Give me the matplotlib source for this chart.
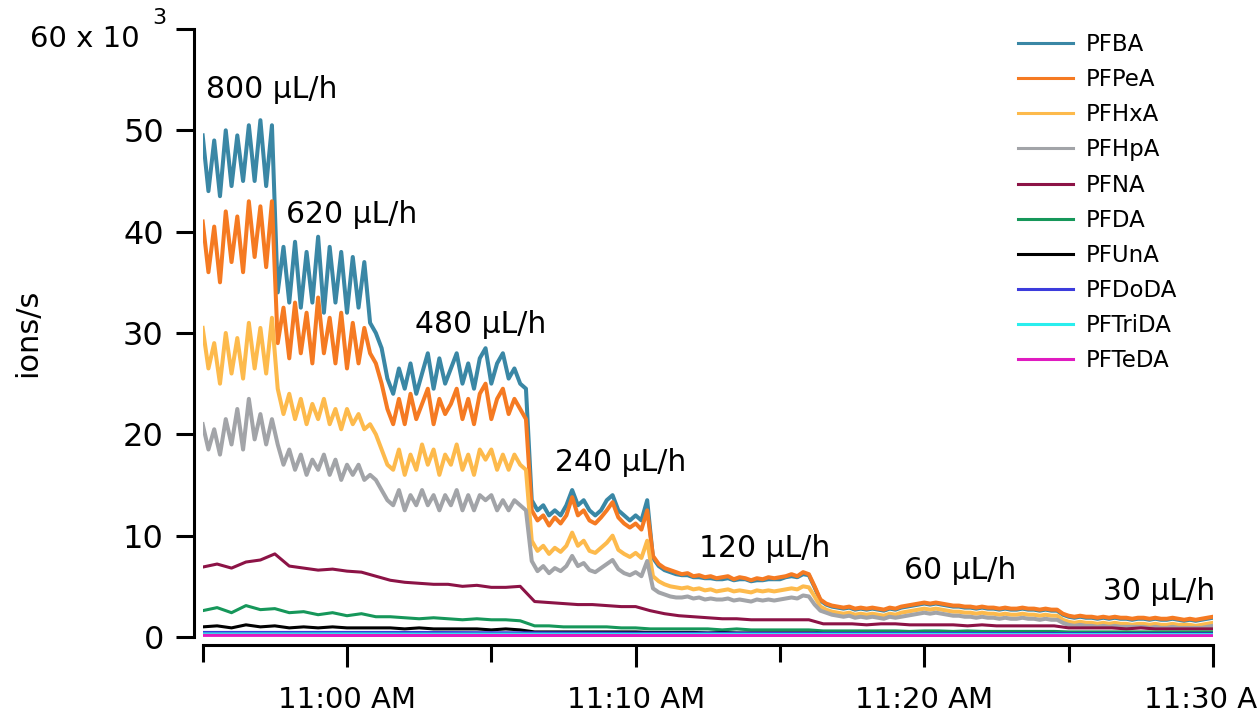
import numpy as np
import matplotlib
matplotlib.use("Agg")
import matplotlib.pyplot as plt

plt.rcParams['font.family'] = ['DejaVu Sans']

# time axis: minutes after 10:55 AM
t_fine = np.arange(176) * 0.2
t_coarse = np.arange(71) * 0.5
t_flat = np.arange(15) * 2.5

# ion counts in thousands (ions/s x 10^3)
pfba = ([49.5, 44.0, 49.0, 43.5, 50.0, 44.5, 49.5, 45.0, 50.5, 45.0, 51.0, 44.5, 50.5]
        + [34.0, 38.5, 33.0, 39.0, 32.5, 38.0, 33.0, 39.5, 32.0, 38.5, 33.0, 38.0, 32.0, 37.5, 32.5, 37.0,
           31.0, 30.0, 28.5, 25.5]
        + [24.0, 26.5, 24.5, 27.0, 24.0, 26.0, 28.0, 24.5, 27.5, 25.0, 26.5, 28.0, 25.0, 27.0, 24.5, 27.5,
           28.5, 25.0, 27.0, 28.0, 25.5, 26.5, 25.0, 24.5]
        + [13.5, 12.5, 13.0, 12.0, 12.5, 12.0, 13.0, 14.5, 13.0, 13.5, 12.5, 12.0, 12.5, 13.5, 14.0, 12.5,
           12.0, 11.5, 12.0, 11.5, 13.5]
        + [7.8, 7.0, 6.6, 6.4, 6.2, 6.1, 6.1, 5.9, 5.9, 5.8, 5.8, 5.7, 5.7, 5.8, 5.6, 5.7, 5.7, 5.5, 5.6,
           5.6, 5.7, 5.7, 5.7, 5.9, 6.0, 5.9, 6.2, 6.1, 4.9]
        + [3.6, 3.2, 3.0, 2.9, 2.8, 2.9, 2.7, 2.8, 2.7, 2.8, 2.7, 2.6, 2.8, 2.7, 2.9, 3.0, 3.1, 3.2, 3.3,
           3.2, 3.3, 3.2, 3.1, 3.0, 3.0, 2.9, 2.9, 2.8, 2.9, 2.8, 2.8, 2.7, 2.8, 2.7, 2.7, 2.8, 2.7, 2.7,
           2.6, 2.7, 2.6, 2.6, 2.2]
        + [2.0, 1.9, 2.0, 1.9, 1.9, 1.8, 1.9, 1.8, 1.9, 1.8, 1.8, 1.7, 1.8, 1.8, 1.7, 1.8, 1.7, 1.7, 1.8,
           1.7, 1.6, 1.7, 1.6, 1.7, 1.8, 1.9])

pfpea = ([41.0, 36.0, 40.5, 35.0, 42.0, 37.0, 41.5, 36.0, 43.0, 37.5, 42.5, 36.5, 43.0]
         + [29.0, 32.5, 27.5, 33.0, 28.0, 32.0, 27.0, 33.5, 28.0, 31.5, 27.0, 32.0, 26.5, 31.0, 27.0, 30.5,
            28.0, 27.0, 25.0, 22.5]
         + [21.0, 23.5, 21.0, 24.0, 21.5, 23.0, 24.5, 21.0, 23.5, 22.0, 23.0, 24.5, 21.5, 23.5, 21.0, 24.0,
            25.0, 21.5, 23.5, 24.5, 22.0, 23.5, 22.5, 21.5]
         + [12.5, 11.5, 12.0, 11.0, 11.8, 11.2, 12.0, 13.8, 12.0, 12.5, 11.5, 11.2, 11.8, 12.5, 13.3, 11.8,
            11.2, 10.8, 11.2, 10.6, 12.5]
         + [8.0, 7.2, 6.8, 6.6, 6.4, 6.2, 6.3, 6.0, 6.1, 5.9, 6.0, 5.8, 5.9, 6.0, 5.7, 5.9, 5.8, 5.6, 5.8,
            5.7, 5.9, 5.8, 5.9, 6.0, 6.2, 6.0, 6.4, 6.2, 5.0]
         + [3.7, 3.3, 3.1, 3.0, 2.9, 3.0, 2.8, 2.9, 2.8, 2.9, 2.8, 2.7, 2.9, 2.8, 3.0, 3.1, 3.2, 3.3, 3.4,
            3.3, 3.4, 3.3, 3.2, 3.1, 3.1, 3.0, 3.0, 2.9, 3.0, 2.9, 2.9, 2.8, 2.9, 2.8, 2.8, 2.9, 2.8, 2.8,
            2.7, 2.8, 2.7, 2.7, 2.3]
         + [2.1, 2.0, 2.1, 2.0, 2.0, 1.9, 2.0, 1.9, 2.0, 1.9, 1.9, 1.8, 1.9, 1.9, 1.8, 1.9, 1.8, 1.8, 1.9,
            1.8, 1.7, 1.8, 1.7, 1.8, 1.9, 2.0])

pfhxa = ([30.5, 26.5, 29.0, 25.0, 30.0, 26.0, 29.5, 25.5, 31.0, 26.5, 30.5, 26.0, 31.5]
         + [24.5, 22.0, 24.0, 21.5, 23.5, 21.0, 23.0, 21.5, 23.5, 21.0, 22.5, 20.5, 22.5, 21.0, 22.0, 20.5,
            21.0, 20.0, 18.5, 17.0]
         + [16.5, 18.5, 16.0, 18.0, 16.5, 19.0, 17.0, 18.5, 16.0, 18.0, 17.0, 19.0, 16.5, 18.0, 16.0, 18.5,
            17.5, 18.5, 16.5, 18.0, 16.5, 18.0, 17.0, 16.5]
         + [9.5, 8.5, 9.0, 8.2, 8.8, 8.4, 9.0, 10.3, 9.0, 9.5, 8.5, 8.3, 8.8, 9.3, 10.0, 8.6, 8.2, 7.9, 8.3,
            7.8, 9.5]
         + [6.0, 5.5, 5.2, 5.0, 4.9, 4.8, 4.9, 4.7, 4.8, 4.6, 4.7, 4.5, 4.6, 4.7, 4.5, 4.6, 4.5, 4.4, 4.6,
            4.5, 4.6, 4.5, 4.6, 4.7, 4.8, 4.7, 5.0, 4.9, 4.0]
         + [3.0, 2.7, 2.5, 2.4, 2.3, 2.4, 2.2, 2.3, 2.2, 2.3, 2.2, 2.1, 2.3, 2.2, 2.4, 2.5, 2.6, 2.7, 2.8,
            2.7, 2.8, 2.7, 2.6, 2.5, 2.5, 2.4, 2.4, 2.3, 2.4, 2.3, 2.3, 2.2, 2.3, 2.2, 2.2, 2.3, 2.2, 2.2,
            2.1, 2.2, 2.1, 2.1, 1.7]
         + [1.5, 1.4, 1.5, 1.4, 1.4, 1.3, 1.4, 1.3, 1.4, 1.3, 1.3, 1.2, 1.3, 1.3, 1.2, 1.3, 1.2, 1.2, 1.3,
            1.2, 1.2, 1.2, 1.1, 1.2, 1.3, 1.4])

pfhpa = ([21.0, 18.5, 20.5, 18.0, 21.5, 19.0, 22.5, 18.5, 23.5, 19.5, 22.0, 19.0, 21.5]
         + [19.0, 17.0, 18.5, 16.5, 18.0, 16.0, 17.5, 16.5, 18.0, 16.0, 17.5, 15.5, 17.0, 16.0, 17.0, 15.5,
            16.0, 15.5, 14.5, 13.5]
         + [13.0, 14.5, 12.5, 14.0, 13.0, 14.5, 13.0, 14.0, 12.5, 14.0, 13.0, 14.5, 12.5, 14.0, 12.5, 14.0,
            13.5, 14.0, 12.5, 13.5, 12.5, 13.5, 13.0, 12.5]
         + [7.5, 6.5, 7.0, 6.3, 6.8, 6.5, 7.0, 8.0, 7.0, 7.3, 6.6, 6.4, 6.8, 7.2, 7.6, 6.7, 6.3, 6.1, 6.4,
            6.0, 7.5]
         + [4.8, 4.4, 4.2, 4.0, 3.9, 3.9, 4.0, 3.8, 3.9, 3.7, 3.8, 3.7, 3.7, 3.8, 3.6, 3.7, 3.6, 3.5, 3.7,
            3.6, 3.7, 3.6, 3.7, 3.8, 3.9, 3.8, 4.1, 4.0, 3.2]
         + [2.6, 2.4, 2.2, 2.1, 2.0, 2.1, 1.9, 2.0, 1.9, 2.0, 1.9, 1.8, 2.0, 1.9, 2.0, 2.1, 2.2, 2.3, 2.4,
            2.3, 2.4, 2.3, 2.2, 2.1, 2.1, 2.0, 2.0, 1.9, 2.0, 1.9, 1.9, 1.8, 1.9, 1.8, 1.8, 1.9, 1.8, 1.8,
            1.7, 1.8, 1.7, 1.7, 1.4]
         + [1.2, 1.1, 1.2, 1.1, 1.1, 1.0, 1.1, 1.0, 1.1, 1.0, 1.0, 1.0, 1.0, 1.0, 0.9, 1.0, 0.9, 0.9, 1.0,
            0.9, 0.9, 0.9, 0.9, 0.9, 1.0, 1.1])

pfna = [6.9, 7.2, 6.8, 7.4, 7.6, 8.2, 7.0, 6.8, 6.6, 6.7, 6.5, 6.4, 6.0, 5.6, 5.4, 5.3, 5.2, 5.2, 5.0, 5.1,
        4.9, 4.9, 5.0, 3.5, 3.4, 3.3, 3.2, 3.2, 3.1, 3.0, 3.0, 2.6, 2.3, 2.1, 2.0, 1.9, 1.8, 1.8, 1.7, 1.7,
        1.7, 1.7, 1.7, 1.3, 1.3, 1.3, 1.2, 1.3, 1.3, 1.2, 1.2, 1.2, 1.2, 1.1, 1.2, 1.1, 1.1, 1.1, 1.1, 1.1,
        0.9, 0.9, 0.9, 0.9, 0.8, 0.9, 0.8, 0.8, 0.8, 0.8, 0.8]
pfda = [2.6, 2.9, 2.4, 3.1, 2.7, 2.8, 2.4, 2.5, 2.2, 2.4, 2.1, 2.3, 2.0, 2.0, 1.9, 1.8, 1.9, 1.8, 1.7, 1.8,
        1.7, 1.7, 1.6, 1.1, 1.1, 1.0, 1.0, 1.0, 1.0, 0.9, 0.9, 0.8, 0.8, 0.8, 0.8, 0.8, 0.7, 0.8, 0.7, 0.7,
        0.7, 0.7, 0.7, 0.6, 0.6, 0.6, 0.6, 0.6, 0.6, 0.55, 0.6, 0.6, 0.55, 0.6, 0.55, 0.55, 0.55, 0.55,
        0.55, 0.55, 0.5, 0.5, 0.5, 0.5, 0.5, 0.5, 0.5, 0.5, 0.5, 0.5, 0.5]
pfuna = [1.0, 1.1, 0.9, 1.2, 1.0, 1.1, 0.9, 1.0, 0.9, 1.0, 0.9, 0.9, 0.9, 0.9, 0.8, 0.9, 0.8, 0.8, 0.8, 0.8,
         0.7, 0.8, 0.7, 0.5, 0.5, 0.5, 0.5, 0.5, 0.5, 0.5, 0.5, 0.45, 0.45, 0.45, 0.45, 0.4, 0.45, 0.4, 0.4,
         0.4, 0.4, 0.4, 0.4, 0.35, 0.35, 0.35, 0.35, 0.35, 0.35, 0.35, 0.35, 0.35, 0.35, 0.35, 0.35, 0.35,
         0.35, 0.35, 0.35, 0.35, 0.3, 0.3, 0.3, 0.3, 0.3, 0.3, 0.3, 0.3, 0.3, 0.3, 0.3]
pfdoda = [0.45, 0.45, 0.45, 0.45, 0.42, 0.40, 0.38, 0.38, 0.36, 0.35, 0.35, 0.34, 0.33, 0.32, 0.32]
pftrida = [0.30, 0.30, 0.30, 0.28, 0.28, 0.27, 0.26, 0.26, 0.25, 0.25, 0.25, 0.24, 0.24, 0.24, 0.24]
pfteda = [0.16, 0.16, 0.15, 0.15, 0.15, 0.15, 0.14, 0.14, 0.14, 0.14, 0.13, 0.13, 0.13, 0.13, 0.13]

names = ['PFBA', 'PFPeA', 'PFHxA', 'PFHpA', 'PFNA', 'PFDA', 'PFUnA', 'PFDoDA', 'PFTriDA', 'PFTeDA']
colors = ['#3a87a5', '#f57a22', '#fdba4c', '#a2a4a8', '#8c1346', '#16975a', '#000000', '#3c3cdc',
          '#2aeeee', '#e01bc0']
flow_labels = ['800 µL/h', '620 µL/h', '480 µL/h', '240 µL/h', '120 µL/h', '60 µL/h', '30 µL/h']
xtick_labels = ['11:00 AM', '11:10 AM', '11:20 AM', '11:30 AM']

series = [(t_fine, pfba), (t_fine, pfpea), (t_fine, pfhxa), (t_fine, pfhpa),
          (t_coarse, pfna), (t_coarse, pfda), (t_coarse, pfuna),
          (t_flat, pfdoda), (t_flat, pftrida), (t_flat, pfteda)]

fig = plt.figure(figsize=(12.58, 7.21), dpi=100)
ax = fig.add_axes([0.1611, 0.1165, 0.8031, 0.8433])

for k, ((t, vals), name, c) in enumerate(zip(series, names, colors)):
    # the four big traces are noisier, draw them thicker
    ax.plot(t, vals, color=c, lw=2.9 if k < 4 else 2.2, label=name)

ax.set_xlim(0, 35)
ax.set_ylim(0, 60)

for s in ['top', 'right']:
    ax.spines[s].set_visible(False)
ax.spines['left'].set_position(('outward', 6))
ax.spines['bottom'].set_position(('outward', 6))
ax.spines['left'].set_linewidth(2.2)
ax.spines['bottom'].set_linewidth(2.2)

ax.set_yticks([0, 10, 20, 30, 40, 50, 60])
ax.set_yticklabels(['0', '10', '20', '30', '40', '50', ''])
ax.tick_params(axis='y', length=13, width=2.2, pad=9, labelsize=23)

ax.set_xticks([5, 15, 25, 35])
ax.set_xticklabels(xtick_labels)
ax.set_xticks([0, 10, 20, 30], minor=True)
ax.tick_params(axis='x', which='major', length=16, width=2.2, pad=13, labelsize=21)
ax.tick_params(axis='x', which='minor', length=12, width=2.2)

# scale label at the top of the y axis
fig.text(30 / 1258, 1 - 25 / 721, '60 x 10', fontsize=21, ha='left', va='top')
fig.text(152 / 1258, 1 - 8 / 721, '3', fontsize=16, ha='left', va='top')

fig.text(28 / 1258, 1 - 333 / 721, 'ions/s', fontsize=22, rotation=90, ha='center', va='center')

label_pos = [(0.1, 54.0), (2.9, 41.7), (7.35, 30.8), (12.2, 17.2), (17.2, 8.7), (24.3, 6.6), (31.2, 4.5)]
for txt, (x, y) in zip(flow_labels, label_pos):
    ax.text(x, y, txt, fontsize=21.5, ha='left', va='center')

leg = ax.legend(loc='upper left', bbox_to_anchor=(1018 / 1258, 1 - 33 / 721),
                bbox_transform=fig.transFigure, frameon=False, fontsize=16.5,
                handlelength=2.4, handletextpad=0.55, labelspacing=0.53,
                borderpad=0, borderaxespad=0)
for line in leg.get_lines():
    line.set_linewidth(2.2)

fig.savefig('out.png', dpi=100)
